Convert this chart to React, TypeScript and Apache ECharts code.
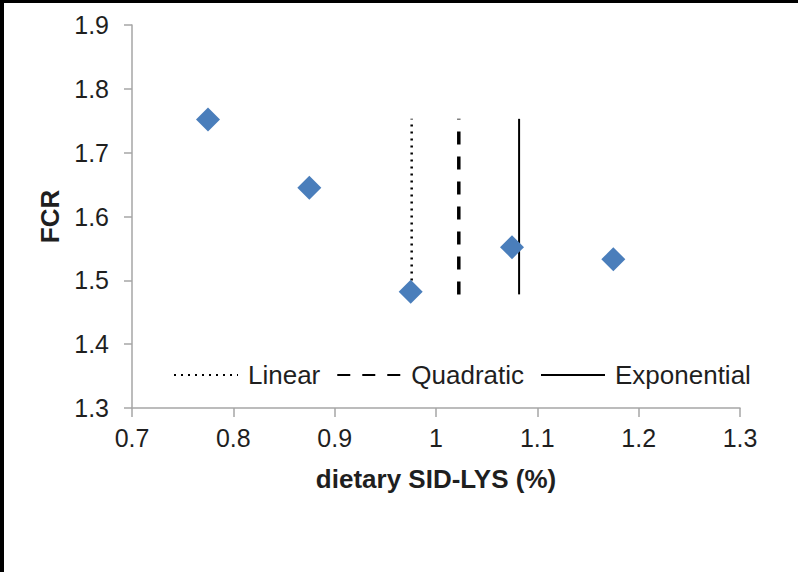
import React, { useEffect, useRef } from "react";
import * as echarts from "echarts";

// Measured feed conversion ratio at each dietary lysine level
const lysineLevels = [0.775, 0.875, 0.975, 1.075, 1.175];
const fcrValues = [1.752, 1.645, 1.482, 1.552, 1.533];

// Estimated SID-LYS requirement from each fitted model, drawn as a vertical marker
const modelNames = ["Linear", "Quadratic", "Exponential"];
const modelOptima = [0.976, 1.0225, 1.082];
const markerSpan = [1.478, 1.753];

const xTicks = { min: 0.7, max: 1.3, interval: 0.1 };
const yTicks = { min: 1.3, max: 1.9, interval: 0.1 };

const FONT = "'Liberation Sans', Arial, sans-serif";
const AXIS_GREY = "#a6a6a6";
const TEXT = "#1f1f1f";

const lineStyles: Array<{ type: any; width: number }> = [
  { type: [2, 5], width: 2.5 },
  { type: [13, 12], width: 3.5 },
  { type: "solid", width: 2 },
];

const fmt = (v: number) => String(Math.round(v * 10) / 10);

export default function App() {
  const ref = useRef<HTMLDivElement>(null);

  useEffect(() => {
    document.body.style.margin = "0";
    const chart = echarts.init(ref.current!, undefined, { renderer: "svg" });

    const modelSeries = modelNames.map((name, i) => ({
      name,
      type: "line" as const,
      symbol: "none",
      silent: true,
      data: markerSpan.map((y) => [modelOptima[i], y]),
      lineStyle: { color: "#000", ...lineStyles[i], cap: "butt" },
      itemStyle: { color: "#000" },
      z: 2,
    }));

    chart.setOption({
      animation: false,
      backgroundColor: "#fff",
      textStyle: { fontFamily: FONT },
      grid: { left: 132, right: 58, top: 25, bottom: 164, containLabel: false },
      graphic: [
        { type: "rect", left: 0, top: 0, shape: { width: 798, height: 3 }, style: { fill: "#000" } },
        { type: "rect", left: 0, top: 0, shape: { width: 4, height: 572 }, style: { fill: "#000" } },
      ],
      legend: {
        data: modelNames.map((name) => ({ name, itemStyle: { opacity: 0 } })),
        left: 168,
        top: 357,
        itemWidth: 64,
        itemHeight: 14,
        itemGap: 16,
        textStyle: { fontSize: 26, color: TEXT, fontFamily: FONT, padding: [0, 0, 0, 5] },
        selectedMode: false,
      },
      xAxis: {
        type: "value",
        ...xTicks,
        name: "dietary SID-LYS (%)",
        nameLocation: "middle",
        nameGap: 58,
        nameTextStyle: { fontSize: 26, fontWeight: "bold", color: TEXT, fontFamily: FONT },
        axisLine: { lineStyle: { color: AXIS_GREY, width: 1.5 } },
        axisTick: { show: true, length: 9, lineStyle: { color: AXIS_GREY, width: 1.5 } },
        axisLabel: { fontSize: 25, color: TEXT, margin: 17, formatter: fmt, fontFamily: FONT },
        splitLine: { show: false },
      },
      yAxis: {
        type: "value",
        ...yTicks,
        name: "FCR",
        nameLocation: "middle",
        nameGap: 34,
        nameTextStyle: { fontSize: 26, fontWeight: "bold", color: TEXT, fontFamily: FONT },
        axisLine: { show: true, lineStyle: { color: AXIS_GREY, width: 1.5 } },
        axisTick: { show: true, length: 8, lineStyle: { color: AXIS_GREY, width: 1.5 } },
        axisLabel: { fontSize: 25, color: TEXT, margin: 23, formatter: fmt, fontFamily: FONT },
        splitLine: { show: false },
      },
      series: [
        ...modelSeries,
        {
          name: "FCR",
          type: "scatter",
          symbol: "diamond",
          symbolSize: 24,
          data: lysineLevels.map((x, i) => [x, fcrValues[i]]),
          itemStyle: { color: "#4a7ebb", opacity: 1 },
          z: 3,
        },
      ],
    });

    return () => chart.dispose();
  }, []);

  return <div ref={ref} style={{ width: 798, height: 572 }} />;
}
